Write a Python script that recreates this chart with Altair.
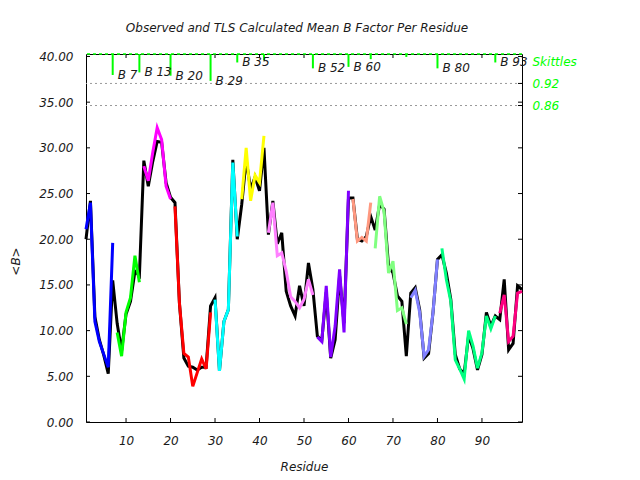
import altair as alt
import pandas as pd

# ---------------- data ----------------
residues = list(range(1, 100))
observed = [20.0, 24.2, 11.5, 9.0, 7.3, 5.3, 15.5, 10.8, 7.8, 11.8,
            13.2, 16.5, 16.0, 28.6, 25.8, 28.5, 30.7, 30.6, 26.2, 24.6,
            24.0, 13.0, 7.0, 6.1, 6.0, 5.7, 6.0, 6.0, 12.7, 13.6,
            5.6, 11.0, 12.3, 28.7, 20.0, 23.8, 28.7, 25.5, 26.8, 25.3,
            30.0, 20.5, 24.2, 19.5, 20.7, 14.3, 12.7, 11.6, 14.9, 12.7,
            17.4, 14.5, 9.4, 8.9, 14.2, 7.0, 9.0, 16.0, 10.8, 24.5,
            24.5, 20.0, 19.8, 20.3, 22.5, 21.0, 23.8, 23.3, 17.1, 16.3,
            13.8, 13.2, 7.2, 14.1, 14.7, 12.3, 7.0, 7.5, 12.0, 17.8,
            18.3, 16.3, 13.4, 7.4, 5.8, 5.3, 9.5, 8.0, 5.7, 7.4,
            12.0, 10.5, 11.6, 11.2, 15.6, 7.9, 8.6, 14.9, 14.5]
tls = [21.1, 24.0, 11.0, 8.8, 7.4, 6.0, 19.6, 9.8, 7.2, 12.0,
       13.6, 18.2, 15.3, 28.0, 26.4, 29.5, 32.2, 30.9, 25.8, 24.4,
       23.6, 13.0, 7.5, 7.1, 3.9, 5.4, 6.9, 5.8, 12.0, 13.4,
       5.6, 11.0, 12.3, 28.4, 20.3, 24.4, 30.0, 24.2, 27.0, 26.2,
       31.3, 20.7, 24.0, 18.2, 18.5, 16.5, 13.7, 13.2, 12.5, 13.4,
       15.6, 13.9, 9.3, 8.8, 14.9, 7.1, 10.5, 16.7, 9.8, 25.3,
       24.4, 19.8, 20.2, 19.8, 24.0, 19.0, 24.7, 23.0, 16.3, 17.6,
       12.2, 12.5, 10.7, 13.6, 14.4, 12.0, 7.2, 7.9, 12.0, 17.8,
       19.0, 15.6, 13.2, 6.8, 5.8, 4.7, 10.0, 8.3, 5.9, 7.6,
       11.6, 10.2, 11.6, 11.9, 13.9, 8.8, 9.4, 14.1, 14.3]

group_start = [1, 8, 14, 21, 30, 36, 42, 53, 61, 66, 74, 81, 94]
group_end = [7, 13, 20, 29, 35, 41, 52, 60, 65, 73, 80, 93, 99]
group_colors = ["#0000ff", "#00ff00", "#ff00ff", "#ff0000", "#00ffff", "#ffff00",
                "#ff80ff", "#8000ff", "#ff9980", "#80ff80", "#8080ff", "#00ff80", "#ff0080"]

skittle_residue = [7, 13, 20, 29, 35, 41, 52, 60, 65, 73, 80, 93]
skittle_score = [0.943, 0.950, 0.941, 0.927, 0.977, 0.983, 0.961, 0.965, 0.986, 0.992, 0.961, 0.977]
skittle_label = ["B 7", "B 13", "B 20", "B 29", "B 35", "", "B 52", "B 60", "", "", "B 80", "B 93"]
skittle_top = 1.0

x_tick_values = [10, 20, 30, 40, 50, 60, 70, 80, 90]
y_tick_values = [0, 5, 10, 15, 20, 25, 30, 35, 40]
skittle_levels = [0.92, 0.86]
skittle_axis_values = [0.86, 0.92, 0.98]

# ---------------- tables ----------------
group_names = [f"g{i + 1:02d}" for i in range(len(group_start))]
grp = []
for r in residues:
    for name, s, e in zip(group_names, group_start, group_end):
        if s <= r <= e:
            grp.append(name)
            break
df = pd.DataFrame({"residue": residues, "observed": observed, "tls": tls, "group": grp})
sk_df = pd.DataFrame({"residue": skittle_residue, "score": skittle_score,
                      "label": skittle_label, "top": [skittle_top] * len(skittle_residue)})
ytick_df = pd.DataFrame({"v": y_tick_values})
xtick_df = pd.DataFrame({"residue": x_tick_values})
level_df = pd.DataFrame({"level": skittle_levels})
top_df = pd.DataFrame({"level": [skittle_top]})

# ---------------- chart ----------------
W, H = 436, 368
FONT = "DejaVu Sans"
TXT = "#1a1a1a"
GREEN = "#00ff00"

x_scale = alt.Scale(domain=[1, 99], nice=False, zero=False)
yb_scale = alt.Scale(domain=[0, 40.27], nice=False, zero=False)
ys_scale = alt.Scale(domain=[0, 1], nice=False, zero=False)

x_axis = alt.Axis(orient="bottom", values=x_tick_values, title="Residue", ticks=False,
                  domain=False, grid=False, labelFontStyle="italic", labelFontSize=12,
                  labelPadding=13, labelColor=TXT, labelOverlap=False,
                  titleFontStyle="italic", titleFontWeight="normal", titleFontSize=12,
                  titlePadding=15, titleColor=TXT)
y_axis = alt.Axis(orient="left", values=y_tick_values, format=".2f", title="<B>", ticks=False,
                  domain=False, grid=False, labelFontStyle="italic", labelFontSize=12,
                  labelPadding=13, labelColor=TXT, labelOverlap=False,
                  titleFontStyle="italic", titleFontWeight="normal", titleFontSize=12,
                  titleColor=TXT, titlePadding=16, titleY=207)
right_axis = alt.Axis(orient="right", values=skittle_axis_values,
                      labelExpr="datum.value > 0.95 ? 'Skittles' : format(datum.value, '.2f')",
                      ticks=False, domain=False, grid=False, labelColor=GREEN,
                      labelFontStyle="italic", labelFontSize=12, labelPadding=10,
                      labelOverlap=False, title="")


def xenc(field):
    # same explicit x axis on every layer so the shared axis merges cleanly
    return alt.X(field, scale=x_scale, axis=x_axis)


obs_line = alt.Chart(df).mark_line(color="black", strokeWidth=3).encode(
    x=xenc("residue:Q"),
    y=alt.Y("observed:Q", scale=yb_scale, axis=y_axis),
)
tls_line = alt.Chart(df).mark_line(strokeWidth=3).encode(
    x=xenc("residue:Q"),
    y=alt.Y("tls:Q", scale=yb_scale, axis=None),
    color=alt.Color("group:N", scale=alt.Scale(domain=group_names, range=group_colors), legend=None),
)
left_ticks = alt.Chart(ytick_df).mark_rule(color="black", strokeWidth=1).encode(
    y=alt.Y("v:Q", scale=yb_scale, axis=None), x=alt.value(0), x2=alt.value(4))
right_ticks = alt.Chart(ytick_df).mark_rule(color="black", strokeWidth=1).encode(
    y=alt.Y("v:Q", scale=yb_scale, axis=None), x=alt.value(W - 4), x2=alt.value(W))
bottom_ticks = alt.Chart(xtick_df).mark_rule(color="black", strokeWidth=1).encode(
    x=xenc("residue:Q"), y=alt.value(H - 4), y2=alt.value(H))
top_ticks = alt.Chart(xtick_df).mark_rule(color="black", strokeWidth=1).encode(
    x=xenc("residue:Q"), y=alt.value(0), y2=alt.value(4))

ref_lines = alt.Chart(level_df).mark_rule(color="#999999", strokeDash=[2, 3], strokeWidth=1).encode(
    y=alt.Y("level:Q", scale=ys_scale, axis=right_axis))
sk_ticks = alt.Chart(level_df).mark_rule(color="black", strokeWidth=1).encode(
    y=alt.Y("level:Q", scale=ys_scale, axis=None), x=alt.value(W - 4), x2=alt.value(W))
top_line = alt.Chart(top_df).mark_rule(color=GREEN, strokeDash=[3, 3], strokeWidth=1.5).encode(
    y=alt.Y("level:Q", scale=ys_scale, axis=None))
sk_rules = alt.Chart(sk_df).mark_rule(color=GREEN, strokeWidth=2).encode(
    x=xenc("residue:Q"),
    y=alt.Y("top:Q", scale=ys_scale, axis=None), y2="score:Q")
sk_text = alt.Chart(sk_df).mark_text(align="left", baseline="middle", dx=5, fontStyle="italic",
                                     fontSize=12, font=FONT, color=TXT).encode(
    x=xenc("residue:Q"),
    y=alt.Y("score:Q", scale=ys_scale, axis=None), text="label:N")

chart = alt.layer(
    obs_line, ref_lines, tls_line, left_ticks, right_ticks, bottom_ticks, top_ticks,
    sk_ticks, top_line, sk_rules, sk_text
).resolve_scale(y="independent").properties(
    width=W, height=H,
    title=alt.TitleParams("Observed and TLS Calculated Mean B Factor Per Residue",
                          fontSize=12, fontStyle="italic", fontWeight="normal", font=FONT,
                          color=TXT, anchor="middle", frame="group", dx=-7, offset=15),
    autosize=alt.AutoSizeParams(type="none"),
    padding={"left": 78, "top": 46, "right": 110, "bottom": 58},
).configure(font=FONT, background="white").configure_view(stroke="black", strokeWidth=1)

chart.save("out.html", embed_options={"renderer": "svg", "actions": False})
